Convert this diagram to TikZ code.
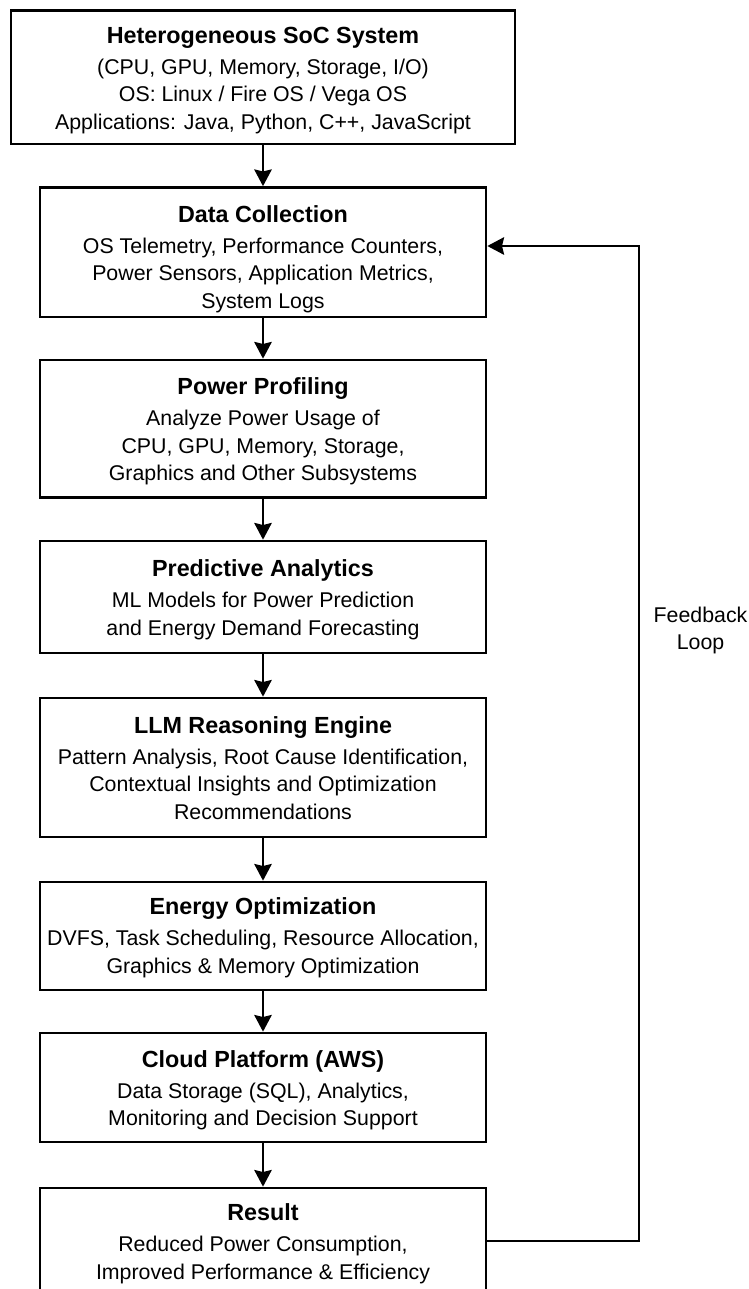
\documentclass[tikz,border=0pt]{standalone}
\usepackage{fontspec}
\setmainfont{Liberation Sans}
\usetikzlibrary{arrows.meta}
\newcommand{\mytitle}[1]{{\fontsize{17.5}{20.6}\selectfont\bfseries #1}}
\begin{document}
\begin{tikzpicture}[x=0.75pt,y=-0.75pt,
  box/.style={draw=black, line width=2pt, minimum width=446*0.75pt, inner sep=0pt},
  txt/.style={anchor=north, align=center, inner sep=0pt, font=\fontsize{16}{20.6}\selectfont},
  flow/.style={draw=black, line width=2pt, -{Stealth[length=12.5pt,width=13pt,inset=1.5pt]}}]
\path[clip] (0,0) rectangle (749,1289);
\fill[white] (0,0) rectangle (749,1289);
% boxes
\node[box, minimum width=504*0.75pt, minimum height=133.2*0.75pt] (b1) at (263,77.4) {};
\node[box, minimum height=129.5*0.75pt] (b2) at (263,252.25) {};
\node[box, minimum height=137.5*0.75pt] (b3) at (263,428.75) {};
\node[box, minimum height=112*0.75pt] (b4) at (263,597) {};
\node[box, minimum height=139*0.75pt] (b5) at (263,767.5) {};
\node[box, minimum height=108*0.75pt] (b6) at (263,936) {};
\node[box, minimum height=109*0.75pt] (b7) at (263,1087.5) {};
\node[box, minimum height=109*0.75pt] (b8) at (263,1242.5) {};
% texts
\node[txt] (t1) at (263,26.6) {\mytitle{Heterogeneous SoC System}\\[2.75pt] (CPU, GPU, Memory, Storage, I/O)\\ OS: Linux / Fire OS / Vega OS\\ Applications: Java, Python, C++, JavaScript};
\node[txt] (t2) at (263,205) {\mytitle{Data Collection}\\[2.75pt] OS Telemetry, Performance Counters,\\ Power Sensors, Application Metrics,\\ System Logs};
\node[txt] (t3) at (263,377.3) {\mytitle{Power Profiling}\\[2.75pt] Analyze Power Usage of\\ CPU, GPU, Memory, Storage,\\ Graphics and Other Subsystems};
\node[txt] (t4) at (263,559.3) {\mytitle{Predictive Analytics}\\[2.75pt] ML Models for Power Prediction\\ and Energy Demand Forecasting};
\node[txt] (t5) at (263,716) {\mytitle{LLM Reasoning Engine}\\[2.75pt] Pattern Analysis, Root Cause Identification,\\ Contextual Insights and Optimization\\ Recommendations};
\node[txt] (t6) at (263,897.3) {\mytitle{Energy Optimization}\\[2.75pt] DVFS, Task Scheduling, Resource Allocation,\\ Graphics \& Memory Optimization};
\node[txt] (t7) at (263,1050) {\mytitle{Cloud Platform (AWS)}\\[2.75pt] Data Storage (SQL), Analytics,\\ Monitoring and Decision Support};
\node[txt] (t8) at (263,1203.3) {\mytitle{Result}\\[2.75pt] Reduced Power Consumption,\\ Improved Performance \& Efficiency};
% flow arrows
\draw[flow] (b1.south) -- (b2.north);
\draw[flow] (b2.south) -- (b3.north);
\draw[flow] (b3.south) -- (b4.north);
\draw[flow] (b4.south) -- (b5.north);
\draw[flow] (b5.south) -- (b6.north);
\draw[flow] (b6.south) -- (b7.north);
\draw[flow] (b7.south) -- (b8.north);
% feedback loop
\coordinate (fr) at (639,1241);
\coordinate (ft) at (639,246);
\draw[flow] (b8.east |- fr) -- (fr) -- (ft) -- (b2.east |- ft);
\node[txt] (fl) at (700.5,606.7) {Feedback\\ Loop};
\end{tikzpicture}
\end{document}
